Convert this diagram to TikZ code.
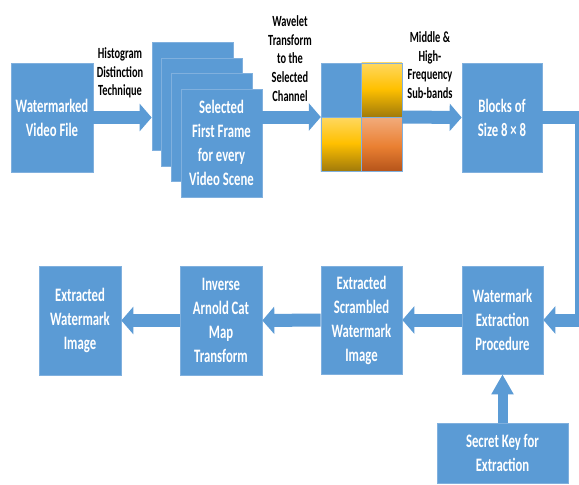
\documentclass[tikz,border=0pt]{standalone}
\usepackage{fontspec}
\setmainfont{Carlito}[FakeStretch=0.67]
\usetikzlibrary{arrows.meta}
\definecolor{boxblue}{RGB}{91,155,213}
\definecolor{boxedge}{RGB}{128,176,222}
\definecolor{yelA}{RGB}{255,216,96}
\definecolor{yelB}{RGB}{255,192,0}
\definecolor{yelC}{RGB}{160,122,10}
\definecolor{orgA}{RGB}{242,172,124}
\definecolor{orgB}{RGB}{234,128,50}
\definecolor{orgC}{RGB}{181,84,26}
% vertical sub-band gradients: the path box spans 25bp (bottom) to 75bp (top)
\pgfdeclareverticalshading{yelband}{100bp}{color(0bp)=(yelC); color(25bp)=(yelC);
  color(51bp)=(yelB); color(75bp)=(yelA); color(100bp)=(yelA)}
\pgfdeclareverticalshading{orgband}{100bp}{color(0bp)=(orgC); color(25bp)=(orgC);
  color(48bp)=(orgB); color(75bp)=(orgA); color(100bp)=(orgA)}
\tikzset{
  x=1pt, y=-1pt,
  stagebox/.style={draw=boxedge, line width=0.7pt, fill=boxblue, text=white,
    minimum width=81pt, minimum height=108pt, inner sep=0pt, align=center,
    font=\bfseries\fontsize{19}{24}\selectfont},
  steplabel/.style={align=center, inner sep=0pt,
    font=\bfseries\fontsize{15.5}{18.7}\selectfont},
  flow/.style={draw=boxblue, line width=13pt,
    -{Triangle[length=12pt,width=27pt]}},
  upflow/.style={draw=boxblue, line width=10pt,
    -{Triangle[length=20pt,width=21pt]}},
}
\begin{document}
\begin{tikzpicture}
\useasboundingbox (0,0) rectangle (579,485);
\fill[white] (0,0) rectangle (579,485);
\clip (0,0) rectangle (579,485);

% top row
\node[stagebox, minimum width=82pt, minimum height=109pt] (wvf) at (52,117.5) {Watermarked\\Video File};
\node[stagebox] (f1) at (192.5,96) {};
\node[stagebox] (f2) at (201.5,112) {};
\node[stagebox] (f3) at (212,127) {};
\node[stagebox] (f4) at (221.5,143) {Selected\\First Frame\\for every\\Video Scene};

% wavelet sub-band grid
\node[minimum width=81pt, minimum height=108pt, inner sep=0pt] (wt) at (361.5,117) {};
\fill[boxblue] (wt.north west) rectangle (wt.center);
\shade[shading=yelband] (wt.north) rectangle (wt.east);
\shade[shading=yelband] (wt.west) rectangle (wt.south);
\shade[shading=orgband] (wt.center) rectangle (wt.south east);
\draw[boxedge, line width=0.6pt] (wt.north west) rectangle (wt.south east)
  (wt.north) -- (wt.south) (wt.west) -- (wt.east);

\node[stagebox, minimum width=80pt, minimum height=109pt] (blocks) at (502,117.5) {Blocks of\\Size 8 × 8};

% bottom row
\node[stagebox] (wep) at (502.5,320) {Watermark\\Extraction\\Procedure};
\node[stagebox] (eswi) at (361.5,320) {Extracted\\Scrambled\\Watermark\\Image};
\node[stagebox, minimum width=82pt, minimum height=109pt] (iact) at (221,320.5) {Inverse\\Arnold Cat\\Map\\Transform};
\node[stagebox, minimum width=82pt, minimum height=109pt] (ewi) at (80,320.5) {Extracted\\Watermark\\Image};
\node[stagebox, minimum width=131pt, minimum height=60pt] (key) at (502.5,453) {Secret Key for\\Extraction};

% step labels
\node[steplabel] (lhist) at (120,73) {Histogram\\Distinction\\Technique};
\node[steplabel] (lwav) at (290,58.5) {Wavelet\\Transform\\to the\\Selected\\Channel};
\node[steplabel] (lband) at (430,65) {Middle \&\\High-\\Frequency\\Sub-bands};

% connectors
\draw[flow] (wvf.east) -- (wvf.east -| f1.west);
\draw[flow] (wt.west -| f4.east) -- (wt.west);
\draw[flow] (wt.east) -- (blocks.west);
\draw[flow, line join=miter] (blocks.east) -- ++(39,0) coordinate (bend) |- (wep.east);
\draw[flow] (wep.west) -- (eswi.east);
\draw[flow] (eswi.west) -- (iact.east);
\draw[flow] (iact.west) -- (ewi.east);
\draw[upflow] (key.north) -- (wep.south);
\end{tikzpicture}
\end{document}
